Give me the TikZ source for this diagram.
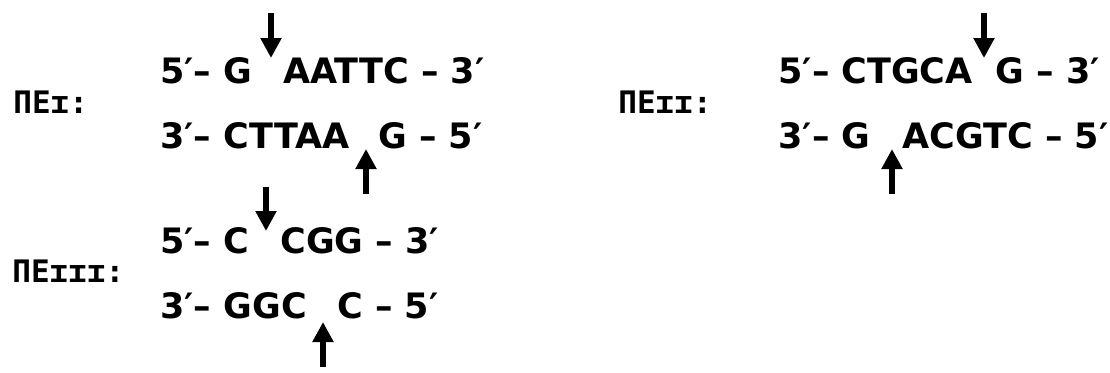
\documentclass[tikz,border=0pt]{standalone}
\usepackage{fontspec}
\setmainfont{DejaVu Sans}
\newfontfamily\enzfont{DejaVu Sans Mono}
\usetikzlibrary{arrows.meta, calc}

\begin{document}
\begin{tikzpicture}[
  x=0.5pt, y=-0.5pt,
  strand/.style ={font=\bfseries\fontsize{17.5}{21}\selectfont,
                  inner sep=0pt, anchor=base west},
  enzlbl/.style ={font=\enzfont\bfseries\fontsize{15.5}{18}\selectfont,
                  inner sep=0pt, anchor=base west},
  cut/.style    ={-{Triangle[length=10pt, width=10pt]}, line width=2.6pt},
]
\useasboundingbox (0,0) rectangle (1110,372);

%% ---- y layout (px, downwards) ----
%%   83 / 148  upper strands / lower strands, blocks I and II
%%  253 / 318  upper strands / lower strands, block III
%% cut arrows sit 12px left of the strand part after the cut

%% ---- Enzyme I ----
\node[enzlbl] (PE1) at (13,113) {ΠΕɪ:};
\node[strand] (E1a) at (160, 83) {5′– G};
\node[strand] (E1b) at (283, 83) {AATTC – 3′};
\node[strand] (E1c) at (160,148) {3′– CTTAA};
\node[strand] (E1d) at (378,148) {G – 5′};

\coordinate (cut1) at ($(E1b.base west)+(-12,0)$);
\coordinate (cut1top) at ($(cut1)+(0,-70)$);
\coordinate (cut1tip) at ($(cut1)+(0,-25)$);
\draw[cut] (cut1top) -- (cut1tip);

\coordinate (cut2) at ($(E1d.base west)+(-12,0)$);
\coordinate (cut2bot) at ($(cut2)+(0,46)$);
\coordinate (cut2tip) at ($(cut2)+(0,1)$);
\draw[cut] (cut2bot) -- (cut2tip);

%% ---- Enzyme II ----
\node[enzlbl] (PE2) at (618,113) {ΠΕɪɪ:};
\node[strand] (E2a) at (778, 83) {5′– CTGCA};
\node[strand] (E2b) at (995, 83) {G – 3′};
\node[strand] (E2c) at (778,148) {3′– G};
\node[strand] (E2d) at (902,148) {ACGTC – 5′};

\coordinate (cut3) at ($(E2b.base west)+(-11,0)$);
\coordinate (cut3top) at ($(cut3)+(0,-70)$);
\coordinate (cut3tip) at ($(cut3)+(0,-25)$);
\draw[cut] (cut3top) -- (cut3tip);

\coordinate (cut4) at ($(E2d.base west)+(-10,0)$);
\coordinate (cut4bot) at ($(cut4)+(0,46)$);
\coordinate (cut4tip) at ($(cut4)+(0,1)$);
\draw[cut] (cut4bot) -- (cut4tip);

%% ---- Enzyme III ----
\node[enzlbl] (PE3) at (12,282) {ΠΕɪɪɪ:};
\node[strand] (E3a) at (160,253) {5′– C};
\node[strand] (E3b) at (280,253) {CGG – 3′};
\node[strand] (E3c) at (160,318) {3′– GGC};
\node[strand] (E3d) at (337,318) {C – 5′};

\coordinate (cut5) at ($(E3b.base west)+(-14,0)$);
\coordinate (cut5top) at ($(cut5)+(0,-66)$);
\coordinate (cut5tip) at ($(cut5)+(0,-22)$);
\draw[cut] (cut5top) -- (cut5tip);

\coordinate (cut6) at ($(E3d.base west)+(-14,0)$);
\coordinate (cut6bot) at ($(cut6)+(0,49)$);
\coordinate (cut6tip) at ($(cut6)+(0,4)$);
\draw[cut] (cut6bot) -- (cut6tip);

\end{tikzpicture}
\end{document}
